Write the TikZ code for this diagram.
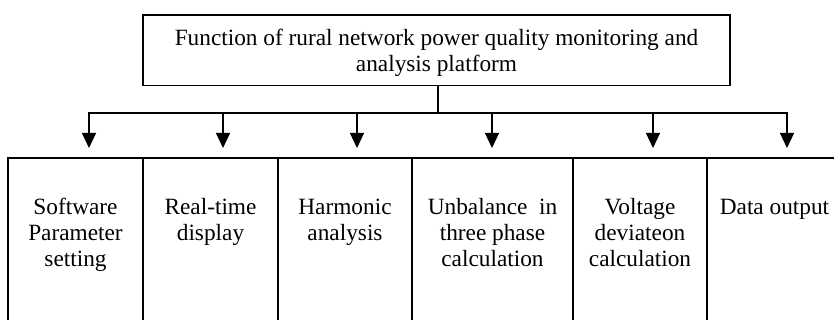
\documentclass[tikz,border=0pt]{standalone}
\usepackage{fontspec}
\setmainfont{Liberation Serif}
\usetikzlibrary{arrows.meta}

\begin{document}
\begin{tikzpicture}[x=1pt,y=-1pt,
  fbox/.style={draw,line width=1.6pt,align=center,anchor=north,inner ysep=0pt,
    font=\fontsize{23.3}{25.8}\selectfont},
  sub/.style={fbox,text height=#1,text depth=110},
  conn/.style={line width=1.2pt,-{Triangle[length=15pt,width=14pt]}}]

\path[use as bounding box,clip] (0,0) rectangle (834,320);

\node[fbox,minimum width=587,text height=56.8,text depth=14] (top) at (436.5,14)
  {Function of rural network power quality monitoring and\\analysis platform};

% text height: first baseline 57 below the box top, plus 25.8 per extra line
\node[sub=108.6,minimum width=135] (b1) at (75.5,157) {Software\\Parameter\\setting};
\node[sub=82.8,minimum width=135] (b2) at (210.5,157) {Real-time\\display};
\node[sub=82.8,minimum width=134] (b3) at (345,157) {Harmonic\\analysis};
\node[sub=108.6,minimum width=161] (b4) at (492.5,157) {Unbalance\ \ in\\three phase\\calculation};
\node[sub=108.6,minimum width=134] (b5) at (640,157) {Voltage\\deviateon\\calculation};
\node[sub=57,minimum width=135] (b6) at (774.5,157) {Data output};

\coordinate (bus) at (0,113);

\foreach \b/\dx in {b1/13.5,b2/12.5,b3/12,b4/-0.5,b5/13,b6/12.5}{
  \coordinate (tip) at ([xshift=\dx,yshift=9]\b.north);
  \draw[conn] ([xshift=1.5]top.south) |- (tip |- bus) -- (tip);
}

\end{tikzpicture}
\end{document}
